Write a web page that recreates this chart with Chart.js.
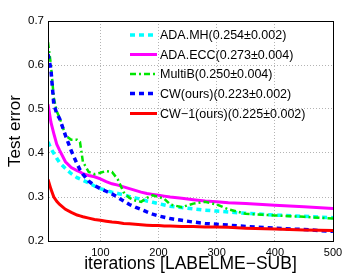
<!DOCTYPE html>
<html>
<head>
<meta charset="utf-8">
<script src="https://cdn.jsdelivr.net/npm/chart.js@4"></script>
<style>
	html, body { margin: 0; padding: 0; background: #fff; }
	#wrap { width: 349px; height: 275px; }
</style>
</head>
<body>
<div id="wrap"><canvas id="errChart" width="349" height="275"></canvas></div>
<script>
// values
const iterations = [10,15,20,25,30,40,50,60,65,70,80,90,100,110,120,130,140,150,160,170,180,190,200,210,220,240,260,280,300,320,350,400,450,500];

const adaMh = [0.425,0.410,0.399,0.388,0.378,0.365,0.353,0.344,0.341,0.338,0.332,0.325,0.319,0.315,0.311,0.308,0.305,0.301,0.298,0.295,0.291,0.288,0.285,0.282,0.279,0.276,0.273,0.270,0.268,0.266,0.263,0.259,0.256,0.253];
const adaEcc = [0.511,0.470,0.444,0.420,0.406,0.380,0.367,0.360,0.357,0.353,0.349,0.346,0.341,0.335,0.330,0.327,0.323,0.319,0.315,0.311,0.308,0.306,0.304,0.302,0.300,0.297,0.294,0.291,0.289,0.287,0.285,0.281,0.278,0.274];
const multiB = [0.652,0.600,0.525,0.495,0.480,0.440,0.430,0.430,0.425,0.380,0.357,0.352,0.355,0.359,0.357,0.340,0.311,0.298,0.292,0.289,0.298,0.304,0.300,0.296,0.283,0.277,0.285,0.289,0.283,0.272,0.262,0.258,0.255,0.251];
const cw = [0.625,0.590,0.510,0.490,0.478,0.440,0.405,0.375,0.362,0.352,0.336,0.326,0.319,0.313,0.307,0.299,0.291,0.283,0.277,0.272,0.266,0.261,0.257,0.254,0.251,0.247,0.243,0.240,0.238,0.236,0.233,0.229,0.226,0.222];
const cw1 = [0.340,0.318,0.300,0.290,0.283,0.272,0.265,0.259,0.257,0.255,0.252,0.249,0.247,0.245,0.243,0.242,0.240,0.239,0.238,0.237,0.236,0.235,0.235,0.234,0.234,0.233,0.233,0.232,0.232,0.231,0.229,0.227,0.225,0.224];

const seriesLabels = ['ADA.MH(0.254\u00b10.002)', 'ADA.ECC(0.273\u00b10.004)', 'MultiB(0.250\u00b10.004)', 'CW(ours)(0.223\u00b10.002)', 'CW\u22121(ours)(0.225\u00b10.002)'];
const xTicks = [100, 200, 300, 400, 500];
const yTicks = [0.2, 0.3, 0.4, 0.5, 0.6, 0.7];

const FONT = "'Liberation Sans', Arial, Helvetica, sans-serif";

function pts(ys) {
	return ys.map((y, i) => ({ x: iterations[i], y: y }));
}

const styles = [
	{ color: 'rgb(0,255,255)', width: 3.5, dash: [5, 4] },
	{ color: 'rgb(255,0,255)', width: 3, dash: [] },
	{ color: 'rgb(0,230,0)', width: 2.5, dash: [6, 3, 2, 3] },
	{ color: 'rgb(0,0,255)', width: 3.5, dash: [5, 4] },
	{ color: 'rgb(255,0,0)', width: 3, dash: [] }
];
const allSeries = [adaMh, adaEcc, multiB, cw, cw1];

const datasets = allSeries.map((s, i) => ({
	label: seriesLabels[i],
	data: pts(s),
	borderColor: styles[i].color,
	borderWidth: styles[i].width,
	borderDash: styles[i].dash,
	pointRadius: 0,
	fill: false,
	tension: 0,
	order: allSeries.length - i   // later series on top, like matlab
}));

// box round the axes + legend inside the plot
const boxAndLegend = {
	id: 'boxAndLegend',
	afterDraw(chart) {
		const ctx = chart.ctx;
		const a = chart.chartArea;
		ctx.save();
		ctx.strokeStyle = '#000';
		ctx.lineWidth = 1;
		ctx.setLineDash([]);
		ctx.strokeRect(Math.round(a.left) + 0.5, Math.round(a.top) + 0.5, Math.round(a.right - a.left), Math.round(a.bottom - a.top));

		// legend rows
		const x0 = 130, x1 = 157, tx = 160;
		const rowY = [35, 54.5, 74, 93.5, 113.5];
		ctx.font = '12.5px ' + FONT;
		ctx.textBaseline = 'middle';
		ctx.textAlign = 'left';
		for (let i = 0; i < seriesLabels.length; i++) {
			ctx.strokeStyle = styles[i].color;
			ctx.lineWidth = styles[i].width;
			ctx.setLineDash(styles[i].dash);
			ctx.beginPath();
			ctx.moveTo(x0, rowY[i]);
			ctx.lineTo(x1, rowY[i]);
			ctx.stroke();
			ctx.fillStyle = '#000';
			ctx.fillText(seriesLabels[i], tx, rowY[i] + 1);
		}
		ctx.restore();
	}
};

const gridStyle = {
	color: '#b4b4b4',
	lineWidth: 1,
	drawTicks: false
};

new Chart(document.getElementById('errChart'), {
	type: 'line',
	data: { datasets: datasets },
	options: {
		responsive: false,
		animation: false,
		layout: { padding: { left: 0, right: 16, top: 21, bottom: 0 } },
		plugins: {
			legend: { display: false },
			tooltip: { enabled: false }
		},
		scales: {
			x: {
				type: 'linear',
				min: 10,
				max: 500,
				afterBuildTicks: (scale) => { scale.ticks = xTicks.map(v => ({ value: v })); },
				afterFit: (scale) => { scale.height = 34; },
				grid: gridStyle,
				border: { display: true, color: '#000', dash: [1, 2] },
				ticks: { color: '#000', font: { family: FONT, size: 11 }, padding: 5, maxRotation: 0 },
				title: { display: true, text: 'iterations [LABELME\u2212SUB]', color: '#000', font: { family: FONT, size: 17.5 }, padding: { top: 0, bottom: 0 } }
			},
			y: {
				min: 0.2,
				max: 0.7,
				afterBuildTicks: (scale) => { scale.ticks = yTicks.map(v => ({ value: v })); },
				afterFit: (scale) => { scale.width = 48; },
				grid: gridStyle,
				border: { display: true, color: '#000', dash: [1, 2] },
				ticks: { color: '#000', font: { family: FONT, size: 11.5 }, padding: 4, callback: (v) => v.toFixed(1) },
				title: { display: true, text: 'Test error', color: '#000', font: { family: FONT, size: 17 }, padding: { top: 5, bottom: 0 } }
			}
		}
	},
	plugins: [boxAndLegend]
});
</script>
</body>
</html>
